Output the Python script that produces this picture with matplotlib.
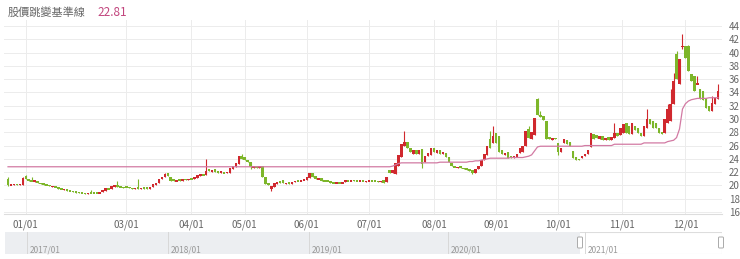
import numpy as np
import matplotlib.pyplot as plt
from matplotlib.patches import Rectangle, FancyBboxPatch

plt.rcParams['font.family'] = ['Noto Sans CJK TC', 'DejaVu Sans']

## DATA (trading-day candles, Dec 2020 .. mid Dec 2021)

opens = [
    21.0, 20.0, 20.1, 20.2, 20.1, 20.0, 21.4, 20.9, 20.8, 20.5,
    20.7, 20.4, 20.3, 20.2, 20.1, 19.8, 19.9, 19.7, 19.6, 19.3,
    19.4, 19.3, 19.2, 19.1, 19.0, 18.9, 18.9, 18.7, 18.9, 18.9,
    19.0, 18.8, 19.0, 19.2, 19.6, 19.5, 19.8, 20.0, 19.9, 19.8,
    19.9, 19.8, 19.6, 19.5, 19.7, 19.5, 19.7, 19.7, 19.5, 19.8,
    20.0, 20.3, 20.9, 21.2, 21.8, 21.2, 20.9, 20.6, 20.9, 20.7,
    21.0, 20.8, 21.0, 20.9, 21.1, 21.4, 21.7, 21.6, 22.5, 22.0,
    22.4, 22.2, 21.9, 22.0, 21.9, 21.9, 22.4, 22.8, 23.3, 24.5,
    24.3, 23.9, 23.6, 22.6, 22.9, 22.6, 22.9, 21.3, 20.4, 19.4,
    19.8, 20.2, 20.6, 20.8, 20.2, 20.5, 20.2, 20.5, 20.8, 20.6,
    20.8, 20.8, 21.1, 21.8, 21.4, 20.9, 21.1, 20.8, 20.7, 20.6,
    20.4, 20.3, 20.5, 20.3, 20.5, 20.8, 20.6, 20.8, 20.7, 20.6,
    20.7, 20.5, 20.6, 20.8, 20.7, 20.7, 20.5, 20.8, 20.5, 22.3,
    21.9, 21.7, 23.0, 24.3, 26.0, 26.5, 25.6, 24.8, 25.3, 24.8,
    25.5, 23.6, 24.4, 24.6, 25.7, 24.9, 25.3, 24.8, 24.9, 24.3,
    23.4, 22.9, 22.6, 22.9, 22.6, 22.6, 22.4, 22.3, 21.9, 22.4,
    22.9, 23.8, 24.6, 27.0, 26.4, 27.9, 27.4, 25.4, 24.6, 25.0,
    24.4, 24.1, 24.3, 24.9, 25.0, 25.9, 28.5, 27.0, 27.6, 33.0,
    30.6, 30.4, 29.7, 27.3, 26.9, 27.1, 26.4, 25.1, 26.4, 26.9,
    26.5, 25.2, 24.3, 24.0, 24.2, 24.5, 24.8, 25.8, 27.8, 27.6,
    27.0, 27.4, 26.8, 27.3, 26.9, 27.1, 27.9, 27.6, 27.9, 29.4,
    28.9, 27.7, 29.0, 28.6, 27.9, 27.4, 28.6, 30.0, 29.7, 29.4,
    28.6, 27.9, 27.9, 29.4, 29.7, 32.3, 39.8, 35.3, 40.8, 41.0,
    41.0, 36.8, 36.5, 35.2, 34.5, 34.2, 33.2, 32.0, 31.2, 32.3,
    33.0,
]

closes = [
    20.1, 20.2, 20.2, 20.1, 20.2, 21.1, 20.9, 20.6, 20.6, 20.8,
    20.3, 20.2, 20.1, 20.0, 19.9, 19.9, 19.7, 19.5, 19.4, 19.5,
    19.2, 19.1, 19.0, 18.9, 18.9, 18.8, 18.7, 18.9, 18.8, 18.8,
    18.8, 19.0, 19.3, 19.6, 19.4, 19.9, 20.0, 19.8, 19.7, 19.6,
    19.7, 19.6, 19.5, 19.6, 19.5, 19.6, 19.5, 19.5, 19.8, 20.2,
    20.4, 21.0, 21.3, 21.7, 21.4, 20.6, 20.6, 20.8, 20.7, 20.9,
    20.8, 21.0, 20.9, 21.2, 21.5, 21.7, 21.5, 22.2, 22.1, 22.3,
    22.0, 21.9, 22.1, 21.8, 22.0, 22.6, 22.9, 23.4, 24.4, 24.0,
    23.8, 23.5, 22.8, 22.9, 22.6, 22.9, 21.2, 20.2, 20.0, 19.9,
    20.3, 20.5, 20.3, 20.4, 20.4, 20.2, 20.5, 20.7, 20.6, 20.8,
    20.9, 21.2, 21.8, 21.3, 21.0, 21.1, 20.7, 20.6, 20.6, 20.3,
    20.3, 20.4, 20.3, 20.5, 20.8, 20.6, 20.8, 20.7, 20.6, 20.7,
    20.6, 20.7, 20.8, 20.6, 20.6, 20.5, 20.7, 20.3, 21.3, 21.8,
    22.3, 23.4, 24.6, 26.2, 26.6, 25.6, 25.0, 25.3, 24.8, 25.4,
    23.3, 24.5, 24.9, 25.6, 25.0, 25.3, 24.7, 24.9, 24.3, 23.5,
    22.9, 22.7, 22.8, 22.6, 22.5, 22.3, 22.2, 21.8, 22.5, 22.9,
    23.9, 24.7, 25.9, 25.6, 27.4, 26.4, 25.1, 24.8, 24.9, 24.2,
    24.1, 24.4, 24.8, 25.6, 25.9, 28.2, 27.1, 28.0, 30.2, 30.6,
    30.3, 29.8, 27.0, 27.0, 27.2, 27.0, 25.0, 25.7, 27.0, 26.3,
    26.0, 24.2, 23.9, 23.8, 24.4, 24.8, 25.3, 27.9, 27.0, 27.1,
    27.4, 26.9, 27.1, 26.9, 27.3, 27.9, 27.5, 28.6, 29.2, 27.9,
    27.7, 29.4, 28.3, 27.9, 27.4, 28.9, 30.0, 29.2, 28.6, 28.6,
    27.9, 27.8, 30.0, 31.5, 32.3, 35.7, 36.0, 39.0, 41.0, 39.2,
    37.2, 35.7, 34.2, 35.4, 33.0, 32.8, 31.7, 31.2, 32.4, 33.2,
    34.2,
]

# candles whose wick clearly sticks out of the body
wick_high = {0: 21.2, 5: 21.2, 6: 21.6, 8: 21.3, 28: 19.3, 37: 20.7, 44: 21.0,
             53: 21.9, 67: 24.0, 79: 24.7, 134: 28.2, 163: 28.2, 164: 29.0,
             176: 29.0, 179: 33.2, 180: 31.2, 205: 29.4, 216: 31.5, 223: 32.3,
             224: 34.5, 225: 36.9, 226: 40.2, 228: 42.8, 230: 41.2, 233: 36.5,
             238: 33.4, 240: 35.3}
wick_low = {0: 19.9, 82: 22.4, 89: 19.1, 140: 22.6, 157: 21.7, 186: 24.6,
            228: 40.5}

# 股價跳變基準線
baseline = ([22.81] * 130 + [22.9, 23.1, 23.3, 23.4] + [23.4] * 12 + [23.5] * 10
            + [23.6, 23.6, 23.7, 23.7] + [23.8, 23.9, 24.0, 24.1] + [24.1] * 6
            + [24.2] * 5 + [24.3, 24.4] + [24.6, 25.2, 25.8] + [25.9] * 15
            + [26.0] * 10 + [26.2] * 10 + [26.4] * 8 + [26.6, 26.7]
            + [26.8, 27.2, 28.5, 31.5, 32.3, 32.7, 32.9, 33.0]
            + [33.1] * 4 + [33.2] * 4)

month_labels = ['01/01', '03/01', '04/01', '05/01', '06/01', '07/01',
                '08/01', '09/01', '10/01', '11/01', '12/01']
month_start_idx = [6, 40, 62, 80, 101, 122, 144, 165, 186, 207.5, 229]

year_labels = ['2017/01', '2018/01', '2019/01', '2020/01', '2021/01']

legend_name = '股價跳變基準線'
legend_value = '22.81'

## PLOT

RED = '#d0282e'
GREEN = '#7db62a'
PINK = '#d27aa3'

W, H = 740, 259
fig = plt.figure(figsize=(W / 100, H / 100), dpi=100)
ax = fig.add_axes([4 / W, 1 - 214 / H, 718 / W, 194 / H])

o = np.array(opens)
c = np.array(closes)
idx = np.arange(len(o))
up = c >= o
colors = np.where(up, RED, GREEN)

hi = np.maximum(o, c)
lo = np.minimum(o, c)
for k, v in wick_high.items():
    hi[k] = v
for k, v in wick_low.items():
    lo[k] = v

ax.vlines(idx, lo, hi, colors=colors, linewidth=0.8, zorder=2)
body = np.maximum(np.abs(c - o), 0.25)
ax.bar(idx, body, bottom=(o + c) / 2 - body / 2, width=0.85, color=colors,
       linewidth=0, zorder=3)

ax.plot(idx, baseline, color=PINK, linewidth=0.9, zorder=4)

ax.set_xlim(-1.36, 241.36)
ax.set_ylim(15.7, 44.9)
ax.set_yticks(np.arange(16, 45, 2))
ax.yaxis.tick_right()
ax.set_xticks(month_start_idx)
ax.set_xticklabels(month_labels)
ax.tick_params(axis='both', length=0, labelsize=7, labelcolor='#666666')
ax.tick_params(axis='y', pad=5)
ax.tick_params(axis='x', pad=4)
ax.grid(True, color='#ececec', linewidth=0.7, zorder=0)
for s in ax.spines.values():
    s.set_visible(False)
ax.spines['bottom'].set_visible(True)
ax.spines['bottom'].set_color('#dddddd')

fig.text(8 / W, 1 - 12 / H, legend_name, fontsize=8, color='#666666',
         va='center', ha='left')
fig.text(97 / W, 1 - 12 / H, legend_value, fontsize=8.5, color='#c2467e',
         va='center', ha='left')

# navigator strip
nav = fig.add_axes([5 / W, 1 - 254 / H, 717 / W, 22 / H])
nav.set_xlim(5, 722)
nav.set_ylim(0, 22)
nav.axis('off')
nav.add_patch(Rectangle((5, 0), 717, 22, facecolor='white',
                        edgecolor='#dddddd', linewidth=0.8))
nav.add_patch(Rectangle((5, 0), 575, 22, facecolor='#eceef1',
                        edgecolor='none'))
for xs, lab in zip([27, 168, 309, 448, 585], year_labels):
    nav.plot([xs, xs], [0, 22], color='#d8d8d8', linewidth=0.7)
    nav.text(xs + 3, 4, lab, fontsize=6, color='#999999', va='center')
for xh in [580, 721]:
    nav.add_patch(FancyBboxPatch((xh - 2.5, 6), 5, 11,
                                 boxstyle='round,pad=0,rounding_size=1',
                                 facecolor='white', edgecolor='#aaaaaa',
                                 linewidth=0.7, clip_on=False))

fig.savefig('out.png', dpi=100)
